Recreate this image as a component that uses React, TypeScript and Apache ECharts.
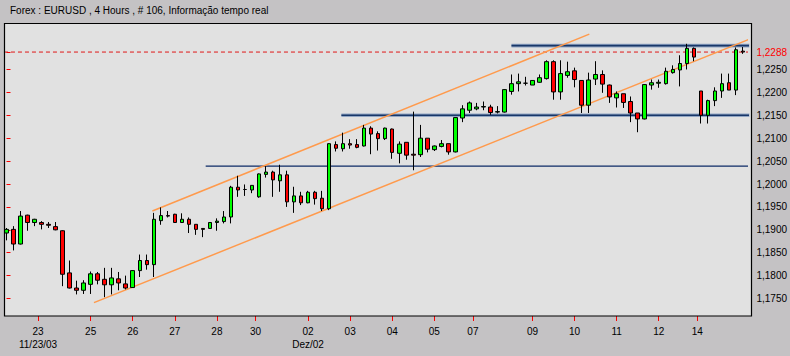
import React, { useEffect, useRef } from "react";
import * as echarts from "echarts";

const titleText = "Forex : EURUSD , 4 Hours , # 106, Informação tempo real";

const opens = [
  1.1893, 1.1901, 1.1869, 1.1932, 1.1916, 1.1916, 1.1912, 1.1907, 1.1898, 1.1806,
  1.1773, 1.1768, 1.1781, 1.1804, 1.1792, 1.1780, 1.1793, 1.1782, 1.1774, 1.1811,
  1.1833, 1.1824, 1.1920, 1.1931, 1.1934, 1.1916, 1.1923, 1.1912, 1.1903, 1.1903,
  1.1916, 1.1918, 1.1928, 1.1993, 1.1988, 1.1987, 1.1972, 1.2021, 1.2026, 1.2007,
  1.2020, 1.1961, 1.1974, 1.1959, 1.1982, 1.1969, 1.1946, 1.2086, 1.2077, 1.2088,
  1.2086, 1.2083, 1.2122, 1.2110, 1.2099, 1.2120, 1.2067, 1.2091, 1.2065, 1.2064,
  1.2100, 1.2075, 1.2082, 1.2088, 1.2070, 1.2144, 1.2161, 1.2164, 1.2168, 1.2168,
  1.2157, 1.2157, 1.2202, 1.2219, 1.2220, 1.2216, 1.2222, 1.2230, 1.2267, 1.2201,
  1.2237, 1.2247, 1.2226, 1.2172, 1.2229, 1.2239, 1.2216, 1.2188, 1.2197, 1.2180,
  1.2155, 1.2142, 1.2216, 1.2220, 1.2219, 1.2243, 1.2249, 1.2263, 1.2296, 1.2203,
  1.2150, 1.2182, 1.2203, 1.2221, 1.2205, 1.2290,
];
const closes = [
  1.1901, 1.1869, 1.1930, 1.1916, 1.1923, 1.1912, 1.1910, 1.1900, 1.1803, 1.1773,
  1.1768, 1.1784, 1.1804, 1.1790, 1.1780, 1.1795, 1.1784, 1.1773, 1.1811, 1.1833,
  1.1824, 1.1923, 1.1931, 1.1930, 1.1916, 1.1923, 1.1912, 1.1901, 1.1901, 1.1916,
  1.1919, 1.1928, 1.1993, 1.1987, 1.1988, 1.1997, 1.2022, 1.2026, 1.2009, 1.2020,
  1.1961, 1.1974, 1.1959, 1.1982, 1.1968, 1.1946, 1.2088, 1.2078, 1.2088, 1.2085,
  1.2080, 1.2122, 1.2109, 1.2099, 1.2122, 1.2069, 1.2087, 1.2063, 1.2063, 1.2100,
  1.2076, 1.2083, 1.2088, 1.2070, 1.2145, 1.2164, 1.2177, 1.2168, 1.2169, 1.2156,
  1.2158, 1.2206, 1.2219, 1.2223, 1.2220, 1.2226, 1.2232, 1.2267, 1.2201, 1.2241,
  1.2245, 1.2228, 1.2172, 1.2227, 1.2239, 1.2218, 1.2190, 1.2197, 1.2178, 1.2155,
  1.2142, 1.2217, 1.2221, 1.2222, 1.2246, 1.2250, 1.2263, 1.2296, 1.2277, 1.2150,
  1.2182, 1.2203, 1.2219, 1.2205, 1.2293, 1.2288,
];
const lows = [
  1.1877, 1.1855, 1.1868, 1.1898, 1.1908, 1.1901, 1.1904, 1.1899, 1.1777, 1.1772,
  1.1759, 1.1760, 1.1760, 1.1781, 1.1753, 1.1759, 1.1768, 1.1770, 1.1773, 1.1797,
  1.1813, 1.1797, 1.1911, 1.1927, 1.1915, 1.1915, 1.1893, 1.1889, 1.1884, 1.1902,
  1.1898, 1.1914, 1.1914, 1.1972, 1.1974, 1.1980, 1.1970, 1.2014, 1.1972, 1.1983,
  1.1950, 1.1937, 1.1954, 1.1958, 1.1955, 1.1941, 1.1943, 1.2071, 1.2071, 1.2077,
  1.2078, 1.2082, 1.2065, 1.2073, 1.2096, 1.2055, 1.2045, 1.2053, 1.2030, 1.2059,
  1.2069, 1.2072, 1.2080, 1.2064, 1.2069, 1.2135, 1.2155, 1.2161, 1.2161, 1.2151,
  1.2154, 1.2156, 1.2195, 1.2202, 1.2215, 1.2216, 1.2221, 1.2228, 1.2184, 1.2184,
  1.2232, 1.2211, 1.2155, 1.2155, 1.2216, 1.2199, 1.2177, 1.2167, 1.2166, 1.2135,
  1.2113, 1.2141, 1.2206, 1.2210, 1.2217, 1.2241, 1.2213, 1.2250, 1.2268, 1.2132,
  1.2132, 1.2170, 1.2188, 1.2205, 1.2194, 1.2284,
];
const highs = [
  1.1904, 1.1908, 1.1941, 1.1933, 1.1924, 1.1919, 1.1917, 1.1917, 1.1899, 1.1833,
  1.1789, 1.1790, 1.1809, 1.1808, 1.1817, 1.1817, 1.1808, 1.1800, 1.1812, 1.1846,
  1.1846, 1.1937, 1.1949, 1.1941, 1.1935, 1.1936, 1.1927, 1.1912, 1.1903, 1.1916,
  1.1925, 1.1941, 1.1996, 1.2018, 1.1999, 1.1997, 1.2023, 1.2039, 1.2029, 1.2042,
  1.2029, 1.1994, 1.1983, 1.1985, 1.1985, 1.1985, 1.2089, 1.2093, 1.2112, 1.2098,
  1.2098, 1.2129, 1.2126, 1.2115, 1.2123, 1.2121, 1.2093, 1.2091, 1.2158, 1.2129,
  1.2100, 1.2084, 1.2096, 1.2088, 1.2145, 1.2172, 1.2180, 1.2177, 1.2180, 1.2173,
  1.2170, 1.2207, 1.2239, 1.2241, 1.2234, 1.2226, 1.2239, 1.2270, 1.2270, 1.2270,
  1.2267, 1.2254, 1.2226, 1.2243, 1.2268, 1.2248, 1.2217, 1.2202, 1.2197, 1.2191,
  1.2155, 1.2218, 1.2228, 1.2228, 1.2254, 1.2259, 1.2281, 1.2306, 1.2298, 1.2203,
  1.2184, 1.2211, 1.2241, 1.2241, 1.2298, 1.2299,
];
const categories = opens.map((_, i) => String(i));

const yTickValues = [1.175, 1.18, 1.185, 1.19, 1.195, 1.2, 1.205, 1.21, 1.215, 1.22, 1.225];
const lastPrice = 1.2288;

const dayTickPos = [4.5, 12, 18, 24, 30, 35.5, 43, 49, 55, 61, 66.5, 75, 81, 87, 93, 98.5];
const dayTickLabels = [
  "23\n11/23/03", "25", "26", "27", "28", "30", "02\nDez/02", "03", "04", "05",
  "07", "09", "10", "11", "12", "14",
];

const upperChannel = [[20.8, 1.1941], [83.1, 1.2327]];
const lowerChannel = [[12.47, 1.1741], [106.75, 1.2321]];
const thickLevelValues = [1.2302, 1.215];
const thickLevelStarts = [72, 47.75];
const thinLevelValue = 1.2039;
const thinLevelStart = 28.4;
const levelEnd = 105.92;
const dashedStart = -0.36;

export default function App() {
  const ref = useRef<HTMLDivElement>(null);
  useEffect(() => {
    if (!ref.current) return;
    const chart = echarts.init(ref.current, undefined, { renderer: "svg" });
    const font = "'Liberation Sans', Arial, sans-serif";
    const lineSeries: any[] = [];
    const addLine = (data: number[][], color: string, width: number, z: number, type: any = "solid") => {
      lineSeries.push({
        type: "line",
        xAxisIndex: 1,
        yAxisIndex: 0,
        data,
        symbol: "none",
        clip: false,
        silent: true,
        z,
        lineStyle: { color, width, type },
      });
    };
    addLine([[dashedStart, lastPrice], [levelEnd, lastPrice]], "#e01818", 1, 3, [4, 3]);
    addLine([[thinLevelStart, thinLevelValue], [levelEnd, thinLevelValue]], "#0c2a66", 1.3, 3);
    thickLevelValues.forEach((v, k) => {
      addLine([[thickLevelStarts[k], v], [levelEnd, v]], "#92a6c4", 3.6, 3);
      addLine([[thickLevelStarts[k], v], [levelEnd, v]], "#183768", 1.6, 3);
    });
    addLine(upperChannel, "#ff9a4c", 1.5, 4);
    addLine(lowerChannel, "#ff9a4c", 1.5, 4);

    chart.setOption({
      animation: false,
      backgroundColor: "#c4c2c4",
      textStyle: { fontFamily: font },
      title: {
        text: titleText,
        left: 5,
        top: 0,
        textStyle: { fontSize: 10, fontWeight: "normal", color: "#000", fontFamily: font },
      },
      graphic: [
        {
          type: "rect",
          z: -1,
          shape: { x: 4, y: 23, width: 748, height: 293 },
          style: { fill: "#e1e1e1" },
          silent: true,
        },
        {
          type: "rect",
          z: 100,
          shape: { x: 4.5, y: 23.5, width: 747, height: 292.5 },
          style: { fill: "none", stroke: "#000", lineWidth: 1.2 },
          silent: true,
        },
      ],
      grid: { left: 3, right: 41, top: 23, bottom: 40 },
      xAxis: [
        {
          type: "category",
          data: categories,
          boundaryGap: true,
          show: false,
        },
        {
          type: "value",
          min: -0.5,
          max: 105.5,
          position: "bottom",
          axisLine: { show: false },
          splitLine: { show: false },
          axisTick: {
            show: true,
            customValues: dayTickPos,
            length: 5,
            lineStyle: { color: "#ff0000", width: 1 },
          },
          axisLabel: {
            customValues: dayTickPos,
            margin: 9,
            fontSize: 10,
            lineHeight: 13,
            color: "#000",
            fontFamily: font,
            formatter: (v: number) => {
              const k = dayTickPos.findIndex((p) => Math.abs(p - v) < 1e-6);
              return k >= 0 ? dayTickLabels[k] : "";
            },
          },
        },
      ],
      yAxis: {
        type: "value",
        position: "right",
        offset: 3,
        min: 1.17119,
        max: 1.23514,
        scale: true,
        axisLine: { show: false },
        splitLine: { show: false },
        axisTick: {
          show: true,
          customValues: [...yTickValues, lastPrice],
          length: 4,
          lineStyle: { color: "#ff0000", width: 1 },
        },
        axisLabel: {
          customValues: [...yTickValues, lastPrice],
          margin: 7,
          fontSize: 10,
          color: "#000",
          fontFamily: font,
          formatter: (v: number) => {
            const s = Number(v).toFixed(4).replace(".", ",");
            return Math.abs(Number(v) - lastPrice) < 1e-7 ? "{r|" + s + "}" : s;
          },
          rich: { r: { color: "#ff0000", fontSize: 10, fontFamily: font } },
        },
      },
      series: [
        ...lineSeries,
        {
          type: "candlestick",
          xAxisIndex: 0,
          yAxisIndex: 0,
          z: 5,
          barWidth: 4,
          data: opens.map((o, i) => [o, closes[i], lows[i], highs[i]]),
          itemStyle: {
            color: "#00ff00",
            color0: "#ff0000",
            borderColor: "#000000",
            borderColor0: "#000000",
            borderWidth: 1,
          },
        },
      ],
    });
    return () => chart.dispose();
  }, []);
  return (
    <div
      ref={ref}
      style={{ position: "absolute", left: 0, top: 0, width: 790, height: 356 }}
    />
  );
}
